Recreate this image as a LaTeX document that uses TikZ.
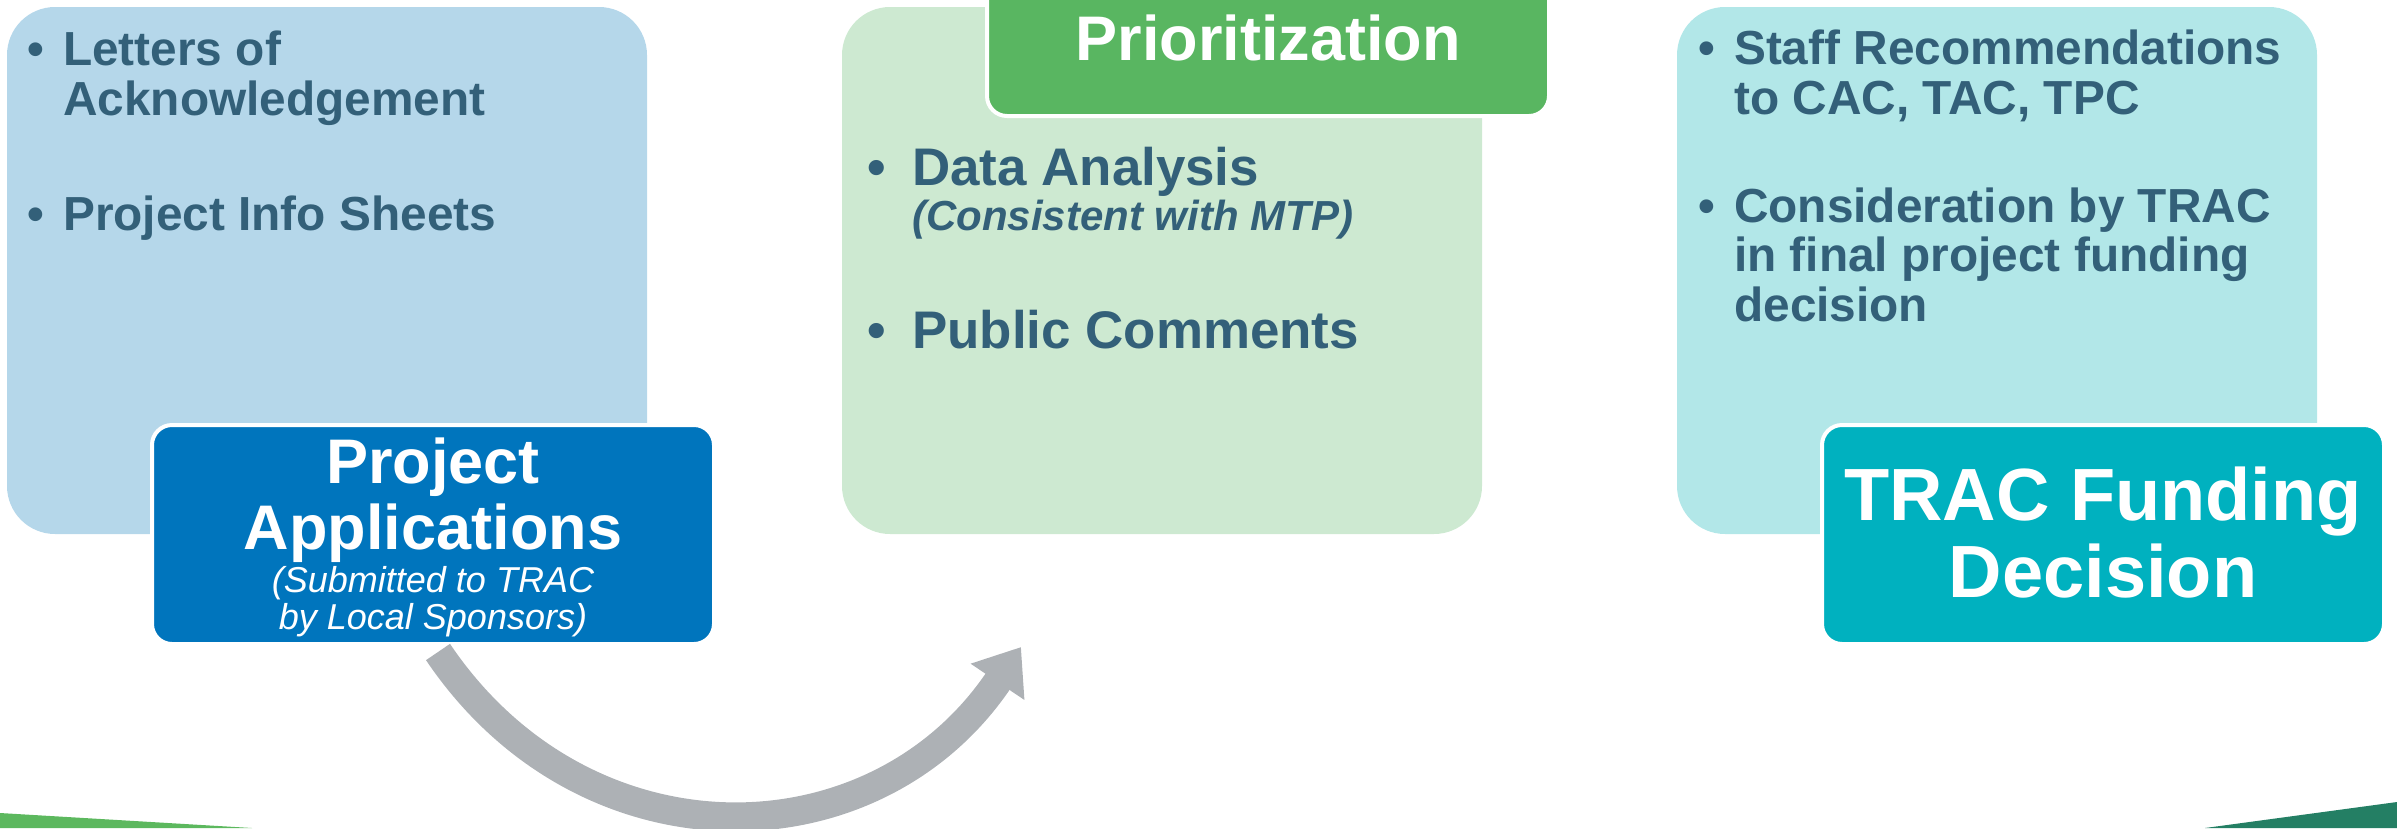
\documentclass[tikz,border=0pt]{standalone}
\usepackage{fontspec}
\setmainfont{Liberation Sans}
\usetikzlibrary{arrows.meta,positioning}
\definecolor{paneblue}{HTML}{B5D7EA}
\definecolor{panegreen}{HTML}{CDE9D1}
\definecolor{panecyan}{HTML}{B2E7E8}
\definecolor{appblue}{HTML}{0075BD}
\definecolor{headgreen}{HTML}{59B661}
\definecolor{fundteal}{HTML}{00B1BF}
\definecolor{ink}{HTML}{336079}
\definecolor{arrowgray}{HTML}{ADB1B5}
\definecolor{stripgreen}{HTML}{5CB85E}
\definecolor{stripdark}{HTML}{247F64}
\newcommand\bul[1]{\llap{\textbullet\hspace{#1}}}

\begin{document}
\begin{tikzpicture}[x=1pt,y=-1pt,
    pane/.style={rounded corners=48pt,inner sep=0pt,minimum width=640pt,minimum height=527pt},
    tab/.style={rounded corners=20pt,draw=white,line width=4pt,inner sep=0pt,minimum width=562pt,minimum height=219pt},
    item/.style={anchor=base west,inner sep=0pt,text=ink,align=left,font=\fontsize{47.8}{50}\selectfont\bfseries},
    bigitem/.style={anchor=base west,inner sep=0pt,text=ink,font=\fontsize{52.9}{56}\selectfont\bfseries},
    title/.style={anchor=base,inner sep=0pt,text=white,align=center},
    flow/.style={draw=arrowgray,line width=29pt,-{Triangle[width=62pt,length=42pt]}}]
    \useasboundingbox (0,0) rectangle (2397,828);
    \clip (0,0) rectangle (2397,828);
    % ground strips
    \fill[stripgreen] (0,813) -- (252,828) -- (0,828) -- cycle;
    \fill[stripdark] (2205,828) -- (2397,802) -- (2397,828) -- cycle;
    % panels
    \node[pane,fill=paneblue] (docs) at (327,270.5) {};
    \node[pane,fill=panegreen] (review) at (1162,270.5) {};
    \node[pane,fill=panecyan] (recs) at (1997,270.5) {};
    \node[tab,fill=appblue] (apps) at (433,534.5) {};
    \node[tab,fill=headgreen] (prio) at (1268,6.5) {};
    \node[tab,fill=fundteal] (fund) at (2103,534.5) {};
    % panel texts (base = last line)
    \node[item] (docsA) at (63,115) {\bul{19pt}Letters of\\Acknowledgement};
    \node[item] (docsB) at (63,230) {\bul{19pt}Project Info Sheets};
    \node[bigitem] (revA) at (912,185) {\bul{26pt}Data Analysis};
    \node[bigitem,font=\fontsize{42}{45}\selectfont\bfseries\itshape] (revB) at (912,230) {(Consistent with MTP)};
    \node[bigitem] (revC) at (912,348) {\bul{26pt}Public Comments};
    \node[item] (recsA) at (1734,114) {\bul{19pt}Staff Recommendations\\to CAC, TAC, TPC};
    \node[item,font=\fontsize{47.8}{49.5}\selectfont\bfseries] (recsB) at (1734,321) {\bul{19pt}Consideration by TRAC\\in final project funding\\decision};
    % tab titles
    \node[title,font=\fontsize{63}{66}\selectfont\bfseries] (appsT) at (433,549) {Project\\Applications};
    \node[title,font=\fontsize{36}{37}\selectfont\itshape] (appsS) at (433,629) {(Submitted to TRAC\\by Local Sponsors)};
    \node[title,font=\fontsize{63}{66}\selectfont\bfseries] (prioT) at (1268,60) {Prioritization};
    \node[title,font=\fontsize{74}{77}\selectfont\bfseries] (fundT) at (2103,597) {TRAC Funding\\Decision};
    % flow arrow
    \coordinate (tip) at (1021,647);
    \draw[flow] ([xshift=5pt,yshift=-6pt]apps.south) to[out=-56,in=236,looseness=1.15] (tip);
\end{tikzpicture}
\end{document}
